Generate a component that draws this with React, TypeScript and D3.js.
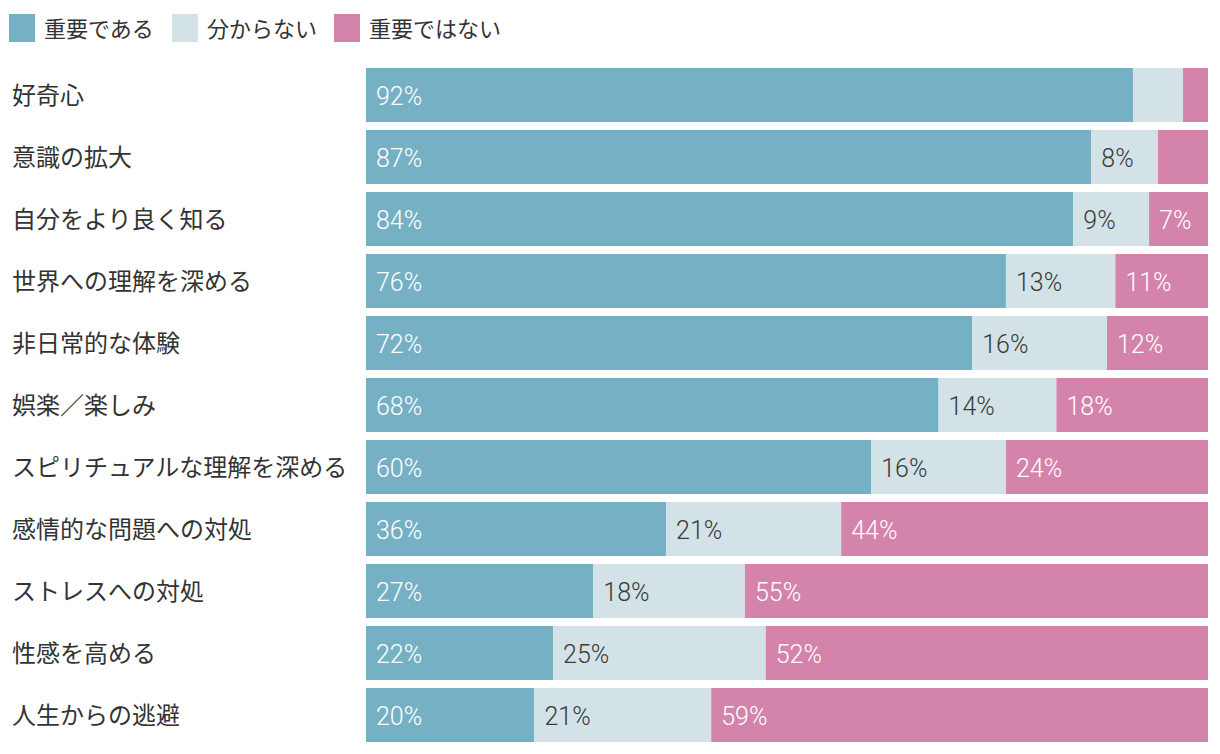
import React from "react";
import * as d3 from "d3";

const categories = [
  "好奇心",
  "意識の拡大",
  "自分をより良く知る",
  "世界への理解を深める",
  "非日常的な体験",
  "娯楽／楽しみ",
  "スピリチュアルな理解を深める",
  "感情的な問題への対処",
  "ストレスへの対処",
  "性感を高める",
  "人生からの逃避",
];
const important = [92, 87, 84, 76, 72, 68, 60, 36, 27, 22, 20];
const unknown = [6, 8, 9, 13, 16, 14, 16, 21, 18, 25, 21];
const notImportant = [3, 6, 7, 11, 12, 18, 24, 44, 55, 52, 59];

const seriesNames = ["重要である", "分からない", "重要ではない"];
const seriesColors = ["#76b0c4", "#d3e2e6", "#d484aa"];
const textColors = ["#ffffff", "#3a3a3a", "#ffffff"];

const W = 1220;
const H = 754;
const barLeft = 366;
const barRight = 1208;
const top = 68;
const bottom = 742;

const FONT = "'Noto Sans CJK JP', 'Noto Sans', sans-serif";
const NUMFONT = "Roboto, 'Noto Sans', sans-serif";

export default function App() {
  document.body.style.margin = "0";
  const y = d3
    .scaleBand<string>()
    .domain(categories)
    .range([top - 4, bottom + 4])
    .paddingInner(8 / 62)
    .paddingOuter(4 / 62);
  const series = [important, unknown, notImportant];

  return (
    <svg width={W} height={H} style={{ display: "block", background: "#fff" }}>
      {seriesNames.map((name, i) => {
        const xs = [9, 172, 334][i];
        return (
          <g key={name}>
            <rect x={xs} y={14} width={26} height={28} fill={seriesColors[i]} />
            <text
              x={xs + 35}
              y={27}
              dominantBaseline="central"
              fontFamily={FONT}
              fontSize={22}
              fill="#333"
            >
              {name}
            </text>
          </g>
        );
      })}
      {categories.map((cat, r) => {
        const vals = series.map((s) => s[r]);
        const total = d3.sum(vals);
        const x = d3.scaleLinear().domain([0, total]).range([barLeft, barRight]);
        const stacks = d3.cumsum([0, ...vals]);
        const by = y(cat)!;
        const bh = y.bandwidth();
        return (
          <g key={cat}>
            <text
              x={12}
              y={by + bh / 2 - 2}
              dominantBaseline="central"
              fontFamily={FONT}
              fontSize={24}
              fill="#333"
            >
              {cat}
            </text>
            {vals.map((v, i) => {
              const x0 = x(stacks[i]);
              const x1 = x(stacks[i + 1]);
              return (
                <g key={i}>
                  <rect x={x0} y={by} width={x1 - x0} height={bh} fill={seriesColors[i]} />
                  {v >= 7 && (
                    <text
                      x={x0 + 10}
                      y={by + bh / 2 + 1}
                      dominantBaseline="central"
                      fontFamily={NUMFONT}
                      fontWeight={300}
                      fontSize={25}
                      fill={textColors[i]}
                    >
                      {v}%
                    </text>
                  )}
                </g>
              );
            })}
          </g>
        );
      })}
    </svg>
  );
}
